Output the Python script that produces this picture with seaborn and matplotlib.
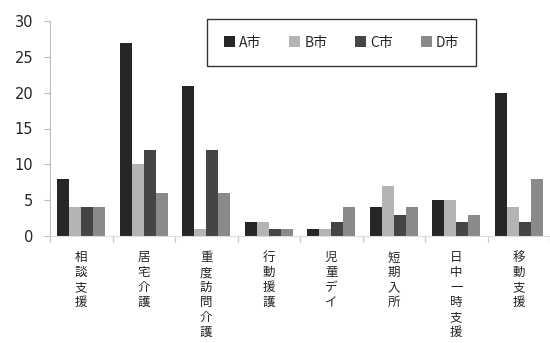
import numpy as np
import pandas as pd
import seaborn as sns
from matplotlib import pyplot as plt

categories = ['相談支援', '居宅介護', '重度訪問介護', '行動援護',
              '児童デイ', '短期入所', '日中一時支援', '移動支援']
city_a = [8, 27, 21, 2, 1, 4, 5, 20]
city_b = [4, 10, 1, 2, 1, 7, 5, 4]
city_c = [4, 12, 12, 1, 2, 3, 2, 2]
city_d = [4, 6, 6, 1, 4, 4, 3, 8]
series = ['A市', 'B市', 'C市', 'D市']
colors = ['#262626', '#b4b4b4', '#454545', '#8a8a8a']

rows = []
for name, vals in zip(series, [city_a, city_b, city_c, city_d]):
    for cat, v in zip(categories, vals):
        rows.append({'cat': cat, 'city': name, 'val': v})
df = pd.DataFrame(rows)

sns.set_style('white')
plt.rcParams['font.family'] = ['Noto Sans CJK JP', 'DejaVu Sans']

fig = plt.figure(figsize=(5.5, 3.43), dpi=100)
ax = fig.add_axes([50 / 550, 1 - 236 / 343, 500 / 550, 215 / 343])

sns.barplot(data=df, x='cat', y='val', hue='city', palette=colors,
            width=0.77, ax=ax, edgecolor='none', saturation=1)

ax.set_ylim(0, 30)
ax.set_xlim(-0.5, len(categories) - 0.5)
ax.set_yticks(range(0, 31, 5))
ax.set_xlabel('')
ax.set_ylabel('')

# vertical stacked category labels
ax.set_xticks(range(len(categories)))
ax.set_xticklabels(['\n'.join(c) for c in categories], fontsize=9,
                   linespacing=1.2, va='top')
ax.tick_params(axis='x', length=0, pad=11)
ax.tick_params(axis='y', labelsize=10.5, length=4, color='#bbbbbb',
               left=True, pad=8)
for t in ax.get_yticklabels():
    t.set_family('DejaVu Sans')

# boundary tick marks below axis
for b in np.arange(-0.5, len(categories), 1.0):
    ax.plot([b, b], [0, -0.8], color='#cccccc', lw=1, clip_on=False)

for s in ['top', 'right']:
    ax.spines[s].set_visible(False)
ax.spines['left'].set_color('#bbbbbb')
ax.spines['bottom'].set_color('#dddddd')

leg = ax.legend(loc='upper left', bbox_to_anchor=(0.30, 1.042),
                ncol=4, frameon=True, fontsize=10, handlelength=0.8,
                handleheight=0.8, handletextpad=0.3, columnspacing=2.0,
                borderpad=1.2, fancybox=False)
leg.get_frame().set_edgecolor('black')
leg.get_frame().set_linewidth(1)

plt.savefig('out.png', dpi=100)
